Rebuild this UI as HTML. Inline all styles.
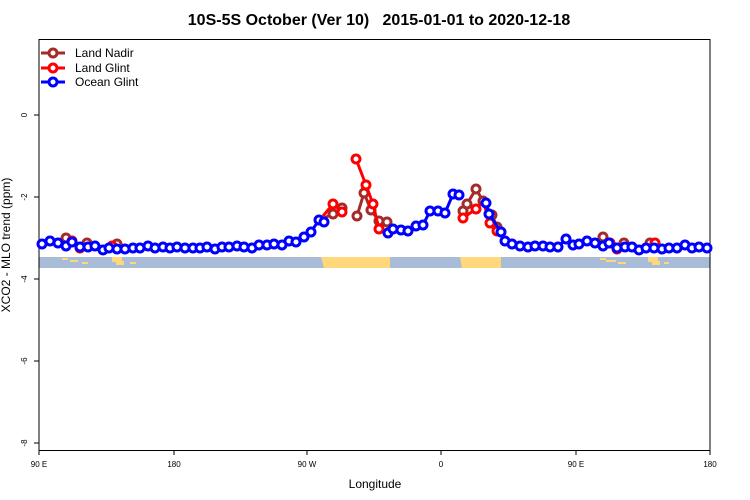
<!DOCTYPE html>
<html><head><meta charset="utf-8"><style>body{margin:0;background:#fff}svg{display:block;font-family:"Liberation Sans",sans-serif}</style></head><body>
<svg width="750" height="500" viewBox="0 0 750 500">
<rect width="750" height="500" fill="#fff"/>
<text x="379" y="25" text-anchor="middle" font-size="16" font-weight="bold" xml:space="preserve" style="white-space:pre">10S-5S October (Ver 10)   2015-01-01 to 2020-12-18</text>
<!-- map strip -->
<rect x="39" y="257" width="671" height="11" fill="#a8bcd8"/>
<path d="M321 257 L390 257 L390 268 L324 268 Z" fill="#fed87a"/>
<path d="M460 257 L501 257 L501 268 L462 268 Z" fill="#fed87a"/>
<g fill="#fed87a">
<rect x="62" y="258" width="6" height="2"/><rect x="70" y="260" width="8" height="2"/><rect x="82" y="262" width="6" height="2"/><rect x="112" y="257" width="10" height="5"/><rect x="116" y="261" width="8" height="4"/><rect x="130" y="262" width="6" height="2"/>
<rect x="600" y="258" width="6" height="2"/><rect x="606" y="260" width="10" height="2"/><rect x="618" y="262" width="8" height="2"/><rect x="648" y="257" width="10" height="5"/><rect x="652" y="261" width="8" height="4"/><rect x="664" y="262" width="5" height="2"/>
</g>
<!-- axes -->
<rect x="39" y="39.5" width="671" height="411" fill="none" stroke="#000" stroke-width="1"/>
<g stroke="#000"><line x1="34" y1="115" x2="39" y2="115"/><line x1="34" y1="197" x2="39" y2="197"/><line x1="34" y1="279" x2="39" y2="279"/><line x1="34" y1="361" x2="39" y2="361"/><line x1="34" y1="443" x2="39" y2="443"/>
<line x1="39" y1="450" x2="39" y2="455"/><line x1="174" y1="450" x2="174" y2="455"/><line x1="307" y1="450" x2="307" y2="455"/><line x1="441" y1="450" x2="441" y2="455"/><line x1="576" y1="450" x2="576" y2="455"/><line x1="710" y1="450" x2="710" y2="455"/></g>
<g font-size="8" text-anchor="middle">
<text transform="translate(27,115) rotate(-90)">0</text><text transform="translate(27,197) rotate(-90)">-2</text><text transform="translate(27,279) rotate(-90)">-4</text><text transform="translate(27,361) rotate(-90)">-6</text><text transform="translate(27,443) rotate(-90)">-8</text>
<text x="39" y="467">90 E</text><text x="174" y="467">180</text><text x="307" y="467">90 W</text><text x="441" y="467">0</text><text x="576" y="467">90 E</text><text x="710" y="467">180</text>
</g>
<text x="375" y="488" text-anchor="middle" font-size="12">Longitude</text>
<text transform="translate(10,245) rotate(-90)" text-anchor="middle" font-size="12">XCO2 - MLO trend (ppm)</text>
<!-- legend -->
<g stroke-width="3" fill="#fff">
<line x1="41" y1="53" x2="65" y2="53" stroke="#a52a2a"/><circle cx="53" cy="53" r="4" stroke="#a52a2a"/>
<line x1="41" y1="68" x2="65" y2="68" stroke="#f00"/><circle cx="53" cy="68" r="4" stroke="#f00"/>
<line x1="41" y1="82" x2="65" y2="82" stroke="#00f"/><circle cx="53" cy="82" r="4" stroke="#00f"/>
</g>
<g font-size="12"><text x="75" y="57">Land Nadir</text><text x="75" y="72">Land Glint</text><text x="75" y="86">Ocean Glint</text></g>
<!-- brown -->
<g stroke="#a52a2a" stroke-width="3" fill="none">
<polyline points="66,238 72,241 80,248 87,243"/><polyline points="112,244 117,244 124,247"/>
<polyline points="324,218 333,214 342,208"/>
<polyline points="357,216 364,193 371,210 379,221 387,222"/>
<polyline points="463,211 467,204 476,189 483,201 492,215 497,227"/>
<polyline points="603,237 610,241 617,245 624,243"/><polyline points="650,243 655,243 662,246"/>
</g>
<g stroke="#a52a2a" stroke-width="3" fill="#fff">
<circle cx="66" cy="238" r="4"/><circle cx="87" cy="243" r="4"/><circle cx="117" cy="244" r="4"/><circle cx="333" cy="214" r="4"/><circle cx="342" cy="208" r="4"/><circle cx="357" cy="216" r="4"/><circle cx="364" cy="193" r="4"/><circle cx="371" cy="210" r="4"/><circle cx="379" cy="221" r="4"/><circle cx="387" cy="222" r="4"/><circle cx="463" cy="211" r="4"/><circle cx="467" cy="204" r="4"/><circle cx="476" cy="189" r="4"/><circle cx="483" cy="201" r="4"/><circle cx="492" cy="215" r="4"/><circle cx="497" cy="227" r="4"/><circle cx="603" cy="237" r="4"/><circle cx="624" cy="243" r="4"/><circle cx="650" cy="243" r="4"/>
</g>
<!-- red -->
<g stroke="#f00" stroke-width="3" fill="none">
<polyline points="72,241 80,248 87,245"/><polyline points="112,246 117,246 124,248"/>
<polyline points="323,216 333,204 342,212"/>
<polyline points="356,159 366,185 373,204 379,229"/>
<polyline points="463,218 476,209 483,201 490,223 497,231"/>
<polyline points="610,243 617,249"/><polyline points="655,243 662,248"/>
</g>
<g stroke="#f00" stroke-width="3" fill="#fff">
<circle cx="72" cy="241" r="4"/><circle cx="80" cy="248" r="4"/><circle cx="112" cy="246" r="4"/><circle cx="333" cy="204" r="4"/><circle cx="342" cy="212" r="4"/><circle cx="356" cy="159" r="4"/><circle cx="366" cy="185" r="4"/><circle cx="373" cy="204" r="4"/><circle cx="379" cy="229" r="4"/><circle cx="463" cy="218" r="4"/><circle cx="476" cy="209" r="4"/><circle cx="490" cy="223" r="4"/><circle cx="497" cy="231" r="4"/><circle cx="610" cy="243" r="4"/><circle cx="617" cy="249" r="4"/><circle cx="655" cy="243" r="4"/>
</g>
<!-- blue -->
<g stroke="#00f" stroke-width="3" fill="none">
<polyline points="42,244 50,241 58,243 66,246 72,242 80,247 88,247 95,246 103,250 109,248 117,249 125,249 133,248 140,248 148,246 155,248 163,247 170,248 177,247 185,248 193,248 200,248 207,247 215,249 222,247 229,247 237,246 244,247 252,248 259,245 267,245 274,244 282,245 289,241 296,242 304,237 311,232 319,220 324,222"/>
<polyline points="388,233 393,229 401,230 408,231 416,226 423,225 430,211 438,211 445,213 453,194 459,195"/>
<polyline points="486,203 489,214 501,232 505,241 512,244 520,246 528,247 535,246 543,246 550,247 558,247 566,239 573,245 579,244 587,241 595,243 603,246 609,243 617,248 625,247 632,247 639,250 646,248 654,248 662,249 669,248 677,248 685,245 692,248 699,247 707,248"/>
</g>
<g stroke="#00f" stroke-width="3" fill="#fff">
<circle cx="42" cy="244" r="4"/><circle cx="50" cy="241" r="4"/><circle cx="58" cy="243" r="4"/><circle cx="66" cy="246" r="4"/><circle cx="72" cy="242" r="4"/><circle cx="80" cy="247" r="4"/><circle cx="88" cy="247" r="4"/><circle cx="95" cy="246" r="4"/><circle cx="103" cy="250" r="4"/><circle cx="109" cy="248" r="4"/><circle cx="117" cy="249" r="4"/><circle cx="125" cy="249" r="4"/><circle cx="133" cy="248" r="4"/><circle cx="140" cy="248" r="4"/><circle cx="148" cy="246" r="4"/><circle cx="155" cy="248" r="4"/><circle cx="163" cy="247" r="4"/><circle cx="170" cy="248" r="4"/><circle cx="177" cy="247" r="4"/><circle cx="185" cy="248" r="4"/><circle cx="193" cy="248" r="4"/><circle cx="200" cy="248" r="4"/><circle cx="207" cy="247" r="4"/><circle cx="215" cy="249" r="4"/><circle cx="222" cy="247" r="4"/><circle cx="229" cy="247" r="4"/><circle cx="237" cy="246" r="4"/><circle cx="244" cy="247" r="4"/><circle cx="252" cy="248" r="4"/><circle cx="259" cy="245" r="4"/><circle cx="267" cy="245" r="4"/><circle cx="274" cy="244" r="4"/><circle cx="282" cy="245" r="4"/><circle cx="289" cy="241" r="4"/><circle cx="296" cy="242" r="4"/><circle cx="304" cy="237" r="4"/><circle cx="311" cy="232" r="4"/><circle cx="319" cy="220" r="4"/><circle cx="324" cy="222" r="4"/>
<circle cx="388" cy="233" r="4"/><circle cx="393" cy="229" r="4"/><circle cx="401" cy="230" r="4"/><circle cx="408" cy="231" r="4"/><circle cx="416" cy="226" r="4"/><circle cx="423" cy="225" r="4"/><circle cx="430" cy="211" r="4"/><circle cx="438" cy="211" r="4"/><circle cx="445" cy="213" r="4"/><circle cx="453" cy="194" r="4"/><circle cx="459" cy="195" r="4"/>
<circle cx="486" cy="203" r="4"/><circle cx="489" cy="214" r="4"/><circle cx="501" cy="232" r="4"/><circle cx="505" cy="241" r="4"/><circle cx="512" cy="244" r="4"/><circle cx="520" cy="246" r="4"/><circle cx="528" cy="247" r="4"/><circle cx="535" cy="246" r="4"/><circle cx="543" cy="246" r="4"/><circle cx="550" cy="247" r="4"/><circle cx="558" cy="247" r="4"/><circle cx="566" cy="239" r="4"/><circle cx="573" cy="245" r="4"/><circle cx="579" cy="244" r="4"/><circle cx="587" cy="241" r="4"/><circle cx="595" cy="243" r="4"/><circle cx="603" cy="246" r="4"/><circle cx="609" cy="243" r="4"/><circle cx="617" cy="248" r="4"/><circle cx="625" cy="247" r="4"/><circle cx="632" cy="247" r="4"/><circle cx="639" cy="250" r="4"/><circle cx="646" cy="248" r="4"/><circle cx="654" cy="248" r="4"/><circle cx="662" cy="249" r="4"/><circle cx="669" cy="248" r="4"/><circle cx="677" cy="248" r="4"/><circle cx="685" cy="245" r="4"/><circle cx="692" cy="248" r="4"/><circle cx="699" cy="247" r="4"/><circle cx="707" cy="248" r="4"/>
</g>
</svg>
</body></html>
